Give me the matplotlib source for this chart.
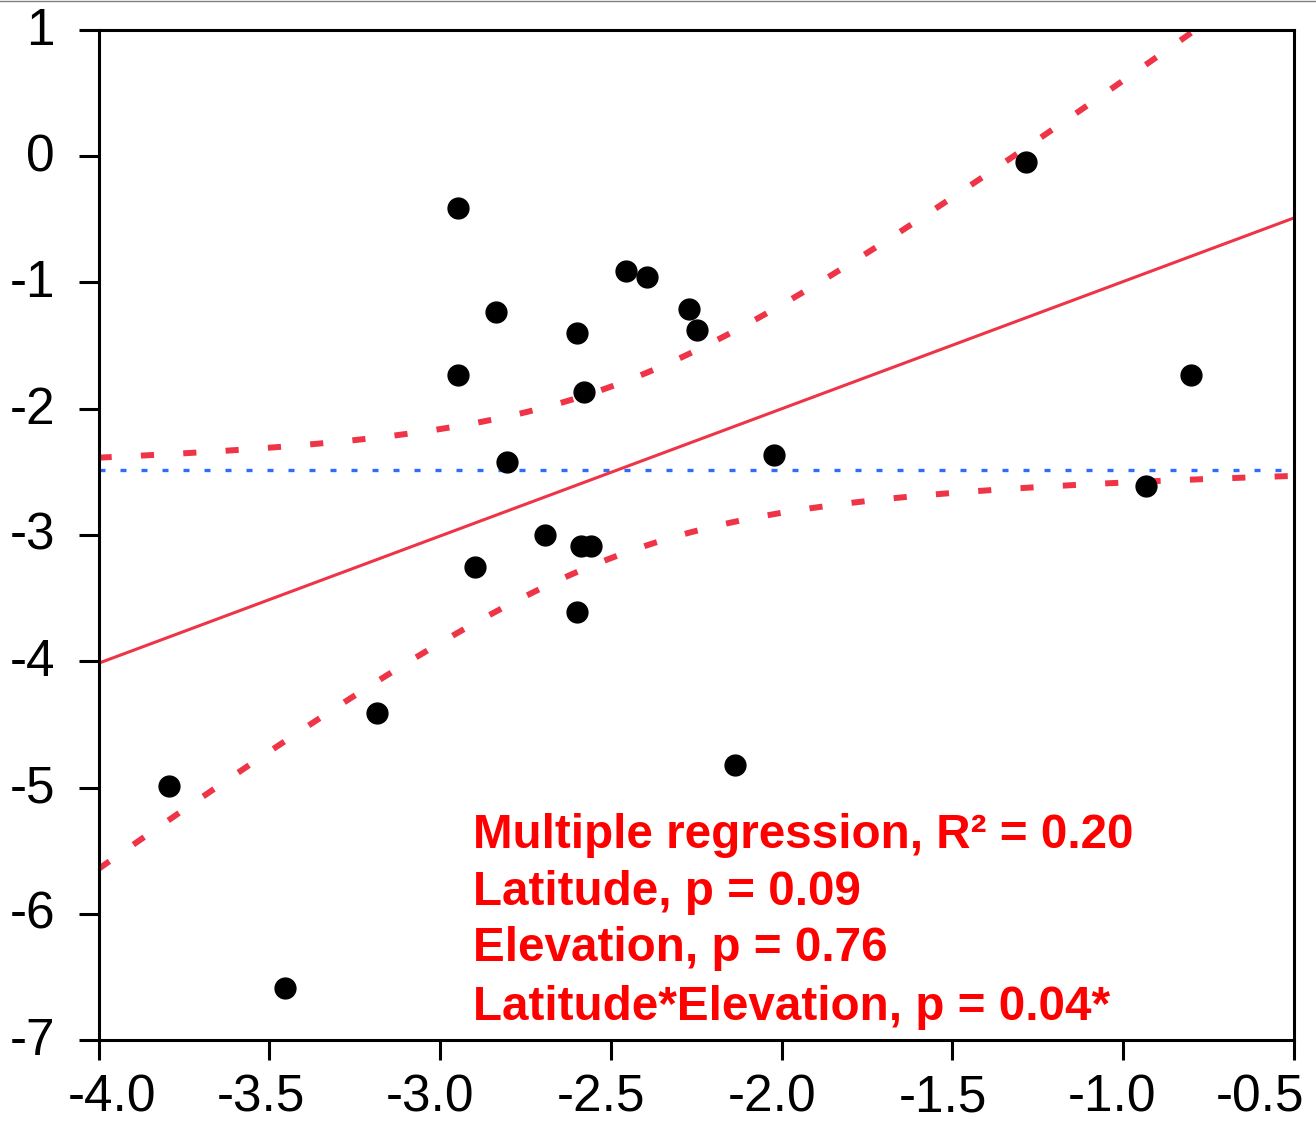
import numpy as np
import matplotlib.pyplot as plt
from matplotlib.lines import Line2D
from matplotlib.transforms import ScaledTranslation

plt.rcParams['font.family'] = ['Liberation Sans', 'DejaVu Sans']
plt.rcParams['axes.unicode_minus'] = False

# points
x_vals = [-3.794, -3.454, -3.185, -2.948, -2.948, -2.897, -2.835, -2.805,
          -2.692, -2.599, -2.578, -2.588, -2.558, -2.599, -2.455, -2.393,
          -2.270, -2.249, -2.137, -2.023, -1.285, -0.934, -0.802]
y_vals = [-4.988, -6.588, -4.410, -0.408, -1.733, -3.251, -1.236, -2.422,
          -3.002, -1.402, -1.870, -3.085, -3.085, -3.610, -0.907, -0.959,
          -1.208, -1.376, -4.822, -2.366, -0.046, -2.612, -1.733]

stats_lines = [
    "Multiple regression, R\u00b2 = 0.20",
    "Latitude, p = 0.09",
    "Elevation, p = 0.76",
    "Latitude*Elevation, p = 0.04*",
]

x_ticks = [-4.0, -3.5, -3.0, -2.5, -2.0, -1.5, -1.0, -0.5]
y_ticks = [1, 0, -1, -2, -3, -4, -5, -6, -7]

N_PARAMS = 4          # intercept, latitude, elevation, interaction
T_975_DF19 = 2.093    # t quantile for the 95% band, df = 23 - 4

x = np.array(x_vals)
y = np.array(y_vals)
n = len(x)

# fitted line + 95% confidence band
slope, intercept = np.polyfit(x, y, 1)
resid = y - (slope * x + intercept)
s = np.sqrt(np.sum(resid ** 2) / (n - N_PARAMS))
sxx = np.sum((x - x.mean()) ** 2)

xg = np.linspace(-4.0, -0.5, 300)
yg = slope * xg + intercept
half = T_975_DF19 * s * np.sqrt(1.0 / n + (xg - x.mean()) ** 2 / sxx)

red = "#EE3446"

fig = plt.figure(figsize=(13.16, 11.23), dpi=100)
ax = fig.add_axes([0.0749, 0.0739, 0.9084, 0.8994])   # left, bottom, width, height

ax.axhline(y.mean(), color="#2F6BFF", lw=2.4, linestyle=(0, (1.8, 4.5)), zorder=1)
ax.plot(xg, yg, color=red, lw=2.2, zorder=2)
for sign in (1, -1):
    ax.plot(xg, yg + sign * half, color=red, lw=4.3, linestyle=(0, (2.2, 4.9)),
            dash_capstyle="butt", zorder=2)
ax.plot(x, y, "o", color="black", markersize=15, zorder=3)

ax.set_xlim(-4.0, -0.5)
ax.set_ylim(-7, 1)
ax.set_xticks(x_ticks)
ax.set_xticklabels([f"{v:.1f}" for v in x_ticks])
ax.set_yticks(y_ticks)
ax.set_yticklabels([f"{v:d}" for v in y_ticks])
ax.tick_params(axis="both", direction="out", length=14.4, width=2.2,
               labelsize=37, color="black")
ax.tick_params(axis="x", pad=10)
ax.tick_params(axis="y", pad=17)
for sp in ax.spines.values():
    sp.set_linewidth(2.2)

# label nudges (pixels): numbers centred without the minus, edge labels kept inside
x_shift = [13.5, -8, -10, -10, -10, -10, -11, -34]
for lab, dx in zip(ax.get_xticklabels(), x_shift):
    lab.set_transform(lab.get_transform() + ScaledTranslation(dx / 100, 0, fig.dpi_scale_trans))
for lab in ax.get_yticklabels():
    lab.set_transform(lab.get_transform() + ScaledTranslation(0, 4 / 100, fig.dpi_scale_trans))

baselines = [0.190, 0.134, 0.078, 0.020]
for txt, yb in zip(stats_lines, baselines):
    ax.text(0.313, yb, txt, transform=ax.transAxes, color="#FF0000",
            fontsize=34.3, fontweight="bold", va="baseline", ha="left")

# thin grey border at the very top of the image
fig.add_artist(Line2D([0, 1], [0.9995, 0.9995], transform=fig.transFigure,
                      color="#808080", lw=1))

fig.savefig("out.png", dpi=100)
plt.close(fig)
